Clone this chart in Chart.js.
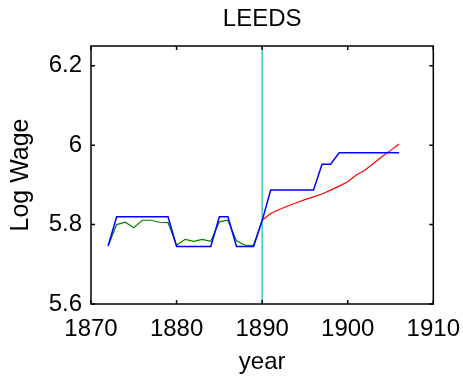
<!DOCTYPE html>
<html>
<head>
<meta charset="utf-8">
<script src="https://cdn.jsdelivr.net/npm/chart.js@4"></script>
<style>
  html, body { margin: 0; padding: 0; background: #fff; }
  #wrap { width: 463px; height: 379px; }
</style>
</head>
<body>
<div id="wrap"><canvas id="chart"></canvas></div>
<script>
'use strict';

/* ── Data ── */
const titleText  = 'LEEDS';
const xTicks     = [1870, 1880, 1890, 1900, 1910];
const yTicks     = [5.6, 5.8, 6.0, 6.2];
const yRange     = [5.6, 6.25];

const blueYears  = [1872, 1873, 1874, 1875, 1876, 1877, 1878, 1879, 1880, 1881, 1882, 1883,
                    1884, 1885, 1886, 1887, 1888, 1889, 1890, 1891, 1892, 1893, 1894, 1895,
                    1896, 1897, 1898, 1899, 1900, 1901, 1902, 1903, 1904, 1905, 1906];
const blueWage   = [5.746, 5.82, 5.82, 5.82, 5.82, 5.82, 5.82, 5.82, 5.745, 5.745, 5.745, 5.745,
                    5.745, 5.82, 5.82, 5.745, 5.745, 5.745, 5.81, 5.887, 5.887, 5.887, 5.887, 5.887,
                    5.887, 5.952, 5.952, 5.981, 5.981, 5.981, 5.981, 5.981, 5.981, 5.981, 5.981];

const greenYears = [1872, 1873, 1874, 1875, 1876, 1877, 1878, 1879, 1880, 1881,
                    1882, 1883, 1884, 1885, 1886, 1887, 1888, 1889, 1890];
const greenWage  = [5.746, 5.800, 5.806, 5.792, 5.811, 5.811, 5.806, 5.805, 5.748, 5.763,
                    5.758, 5.763, 5.758, 5.807, 5.811, 5.759, 5.748, 5.748, 5.811];

const redYears   = [1890, 1891, 1892, 1893, 1894, 1895, 1896, 1897, 1898,
                    1899, 1900, 1901, 1902, 1903, 1904, 1905, 1906];
const redWage    = [5.811, 5.828, 5.838, 5.847, 5.855, 5.863, 5.870, 5.877, 5.887,
                    5.897, 5.908, 5.925, 5.937, 5.954, 5.971, 5.987, 6.003];

const breakYear  = 1890;

const pts = (xs, ys) => xs.map((x, i) => ({ x, y: ys[i] }));

const FONT = '"Liberation Sans", Arial, sans-serif';

/* ── Box, inward ticks on all four sides, title over the axes ── */
const matlabBox = {
  id: 'matlabBox',
  afterDraw(chart) {
    const { ctx, chartArea: a, scales: { x, y } } = chart;
    const len = 4;
    ctx.save();
    ctx.strokeStyle = '#000';
    ctx.lineWidth = 1.5;
    ctx.strokeRect(a.left, a.top, a.right - a.left, a.bottom - a.top);
    ctx.beginPath();
    xTicks.forEach(v => {
      const px = x.getPixelForValue(v);
      ctx.moveTo(px, a.bottom); ctx.lineTo(px, a.bottom - len);
      ctx.moveTo(px, a.top);    ctx.lineTo(px, a.top + len);
    });
    yTicks.forEach(v => {
      const py = y.getPixelForValue(v);
      ctx.moveTo(a.left, py);  ctx.lineTo(a.left + len, py);
      ctx.moveTo(a.right, py); ctx.lineTo(a.right - len, py);
    });
    ctx.stroke();

    ctx.fillStyle = '#000';
    ctx.font = '24px ' + FONT;
    ctx.textAlign = 'center';
    ctx.textBaseline = 'middle';
    ctx.fillText(titleText, (a.left + a.right) / 2, 19);
    ctx.restore();
  },
};

const line = (label, data, color, width, order) => ({
  label, data, borderColor: color, borderWidth: width,
  pointRadius: 0, fill: false, tension: 0, order,
});

new Chart(document.getElementById('chart'), {
  type: 'line',
  data: {
    datasets: [
      line('break', pts([breakYear, breakYear], yRange), '#33cccc', 1.5, 4),
      line('green', pts(greenYears, greenWage), '#008000', 1.2, 3),
      line('red',   pts(redYears, redWage),     '#ff0000', 1.2, 2),
      line('blue',  pts(blueYears, blueWage),   '#0000ff', 1.5, 1),
    ],
  },
  options: {
    responsive: true,
    maintainAspectRatio: false,
    animation: false,
    layout: { padding: { top: 46, right: 29, left: 0, bottom: 0 } },
    plugins: {
      legend: { display: false },
      tooltip: { enabled: false },
      title: { display: false },
    },
    scales: {
      x: {
        type: 'linear',
        min: xTicks[0], max: xTicks[xTicks.length - 1],
        afterBuildTicks: s => { s.ticks = xTicks.map(v => ({ value: v })); },
        afterFit: s => { s.height = 75; },
        grid: { display: false },
        border: { display: false },
        ticks: { color: '#000', font: { family: FONT, size: 24 }, padding: 3, maxRotation: 0,
                 callback: v => String(v) },
        title: { display: true, text: 'year', color: '#000',
                 font: { family: FONT, size: 24 }, padding: { top: 0, bottom: 2 } },
      },
      y: {
        type: 'linear',
        min: yRange[0], max: yRange[1],
        afterBuildTicks: s => { s.ticks = yTicks.map(v => ({ value: v })); },
        afterFit: s => { s.width = 91; },
        grid: { display: false },
        border: { display: false },
        ticks: { color: '#000', font: { family: FONT, size: 24 }, padding: 1,
                 callback: v => String(+v.toFixed(1)) },
        title: { display: true, text: 'Log Wage', color: '#000',
                 font: { family: FONT, size: 25 }, padding: { top: 6, bottom: 0 } },
      },
    },
  },
  plugins: [matlabBox],
});
</script>
</body>
</html>
